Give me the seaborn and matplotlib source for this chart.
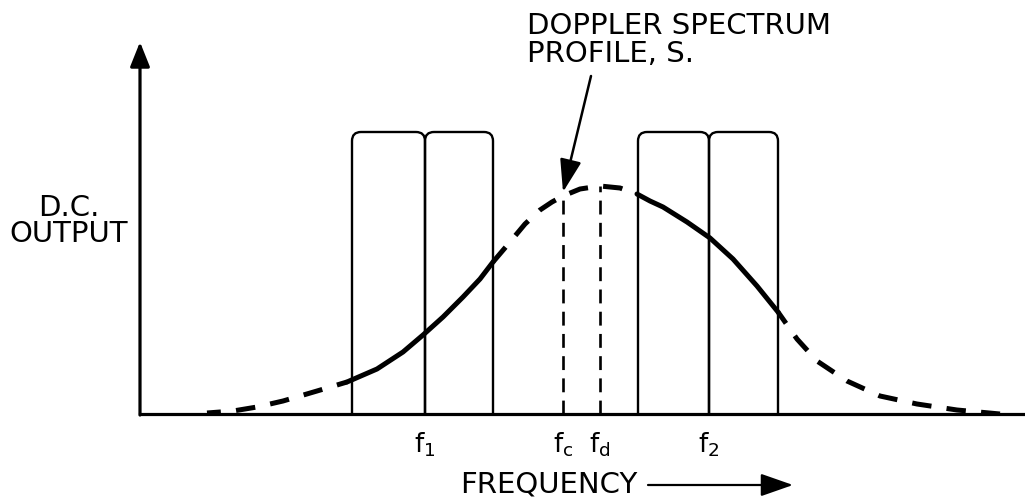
import numpy as np
import pandas as pd
import matplotlib
matplotlib.use("Agg")
import matplotlib.pyplot as plt
import seaborn as sns
from matplotlib.patches import FancyBboxPatch

# ---- data ----
freq = [207, 233, 257, 283, 317, 347, 377, 403, 423, 443, 463, 480, 493, 510, 525,
        540, 552, 563, 580, 600, 620, 637, 650, 663, 687, 710, 733, 757, 778, 797,
        817, 847, 880, 917, 957, 1000]
profile = [1, 3, 7, 13, 23, 32, 45, 62, 79, 97, 117, 135, 152, 172, 190,
           204, 212, 218, 225, 228, 226, 220, 213, 207, 192, 176, 155, 128, 102, 75,
           53, 33, 18, 10, 4, 0]
band1_edges = [352, 425, 493]
band2_edges = [638, 709, 778]
filter_height = 282
solid_ranges = [(347, 493), (637, 778)]
fc_freq, fc_level = 563, 218
fd_freq, fd_level = 600, 228
tick_freqs = [425, 563, 600, 709]
tick_labels = [r'$\mathregular{f_1}$', r'$\mathregular{f_c}$',
               r'$\mathregular{f_d}$', r'$\mathregular{f_2}$']

sns.set_theme(style="white")
plt.rcParams['font.family'] = ['DejaVu Sans']
plt.rcParams['mathtext.default'] = 'regular'
plt.rcParams['lines.scale_dashes'] = False
plt.rcParams['lines.dash_capstyle'] = 'butt'
plt.rcParams['path.simplify'] = False

fig = plt.figure(figsize=(10.25, 5.02), dpi=100)
ax = fig.add_axes([140 / 1025, 87 / 502, 885 / 1025, 372 / 502])
ax.set_xlim(140, 1025)
ax.set_ylim(0, 372)

df = pd.DataFrame({"freq": freq, "S": profile})

# filter pass-bands (rounded top boxes)
for edges in (band1_edges, band2_edges):
    for lo, hi in zip(edges[:-1], edges[1:]):
        box = FancyBboxPatch((lo, -30), hi - lo, filter_height + 30,
                             boxstyle="round,pad=0,rounding_size=9",
                             mutation_aspect=1, fc="none", ec="black", lw=1.7,
                             zorder=2)
        ax.add_patch(box)

# spectrum profile: solid inside pass-bands, dashed elsewhere
dashed_parts = [df[df.freq <= solid_ranges[0][0]],
                df[(df.freq >= solid_ranges[0][1]) & (df.freq <= solid_ranges[1][0])],
                df[df.freq >= solid_ranges[1][1]]]
offsets = [4, 0, 4]
for part, off in zip(dashed_parts, offsets):
    sns.lineplot(data=part, x="freq", y="S", ax=ax, color="black", lw=3.6,
                 estimator=None, sort=False, zorder=3,
                 linestyle=(off, (14, 11)), dash_capstyle="butt")
for lo, hi in solid_ranges:
    part = df[(df.freq >= lo) & (df.freq <= hi)]
    sns.lineplot(data=part, x="freq", y="S", ax=ax, color="black", lw=3.6,
                 estimator=None, sort=False, zorder=3, solid_capstyle="round")

# f_c and f_d markers
ax.vlines([fc_freq, fd_freq], 0, [fc_level - 2, fd_level], colors="black", lw=1.9,
          linestyles=[(0, (10, 6))], zorder=2)

# axes
ax.spines[["top", "right", "left"]].set_visible(False)
ax.spines["bottom"].set_linewidth(2.3)
ax.spines["bottom"].set_color("black")
ax.annotate("", xy=(140, 372), xytext=(140, -1), annotation_clip=False,
            arrowprops=dict(arrowstyle="-|>,head_length=0.75,head_width=0.3",
                            mutation_scale=20, lw=2.3, color="black",
                            shrinkA=0, shrinkB=0))

ax.set_yticks([])
ax.set_xticks(tick_freqs)
ax.set_xticklabels(tick_labels, fontsize=19)
ax.tick_params(axis="x", length=0, pad=11, colors="black")
ax.set_xlabel("")
ax.set_ylabel("")

# labels
ax.text(128, 194, "D.C.\nOUTPUT", ha="right", va="center", multialignment="center",
        fontsize=21, linespacing=0.95, color="black")
ax.text(460, -78, "FREQUENCY", ha="left", va="baseline", fontsize=21,
        color="black", clip_on=False)
ax.annotate("", xy=(793, -71), xytext=(648, -71), annotation_clip=False,
            arrowprops=dict(arrowstyle="-|>,head_length=1.0,head_width=0.35",
                            mutation_scale=20, lw=1.6, color="black",
                            shrinkA=0, shrinkB=0))

ax.text(527, 403, "DOPPLER SPECTRUM\nPROFILE, S.", ha="left", va="top",
        fontsize=21, linespacing=1.0, color="black", clip_on=False)
ax.annotate("", xy=(563, 222), xytext=(591, 338), annotation_clip=False,
            arrowprops=dict(arrowstyle="-|>,head_length=1.0,head_width=0.33",
                            mutation_scale=20, lw=1.8, color="black",
                            shrinkA=0, shrinkB=0))

fig.savefig("out.png", dpi=100, facecolor="white")
